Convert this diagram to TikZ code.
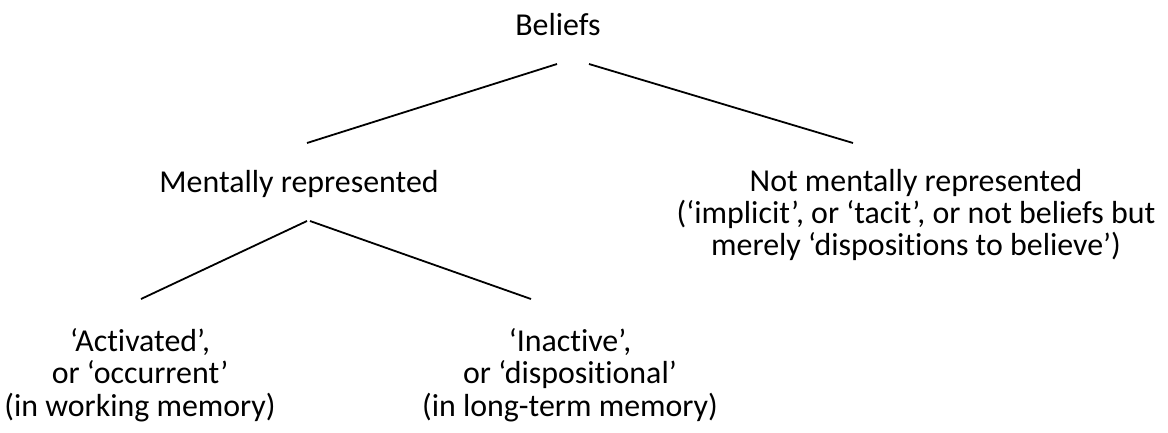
\documentclass[tikz,border=0pt]{standalone}
\usepackage{fontspec}
\setmainfont{Carlito}[Ligatures=NoCommon]
\usetikzlibrary{calc,
                 positioning
  }

\begin{document}
\begin{tikzpicture}[
      x=1pt,
      y=-1pt,
      branch/.style={
                draw=black,
                line width=1.8pt
                },
      belief/.style={
                inner sep=0pt,
                align=center
                },
      every node/.style={font=\fontsize{31.9}{32.3}\selectfont}
]

\useasboundingbox (0,0) rectangle (1168,432);

\node[belief, anchor=base] (beliefs) at (558,35) {Beliefs};

\node[belief, anchor=base] (mental) at (299,192) {Mentally represented};
\node[belief] (notmental) at (916,215) {Not mentally represented\\(‘implicit’, or ‘tacit’, or not beliefs but\\merely ‘dispositions to believe’)};

\node[belief] (active) at (140,375) {‘Activated’,\\or ‘occurrent’\\(in working memory)};
\node[belief] (inactive) at (570,375) {‘Inactive’,\\or ‘dispositional’\\(in long-term memory)};

\draw[branch] ($ (beliefs.base) + (-1,29) $) -- ($ (mental.base) + (8,-49) $);
\draw[branch] ($ (beliefs.base) + (31,29) $) -- ($ (notmental.center) + (-63,-72) $);

\draw[branch] ($ (mental.base) + (8,29) $) -- ($ (active.center) + (1,-76) $);
\draw[branch] ($ (mental.base) + (11,29) $) -- ($ (inactive.center) + (-39,-76) $);

\end{tikzpicture}
\end{document}
